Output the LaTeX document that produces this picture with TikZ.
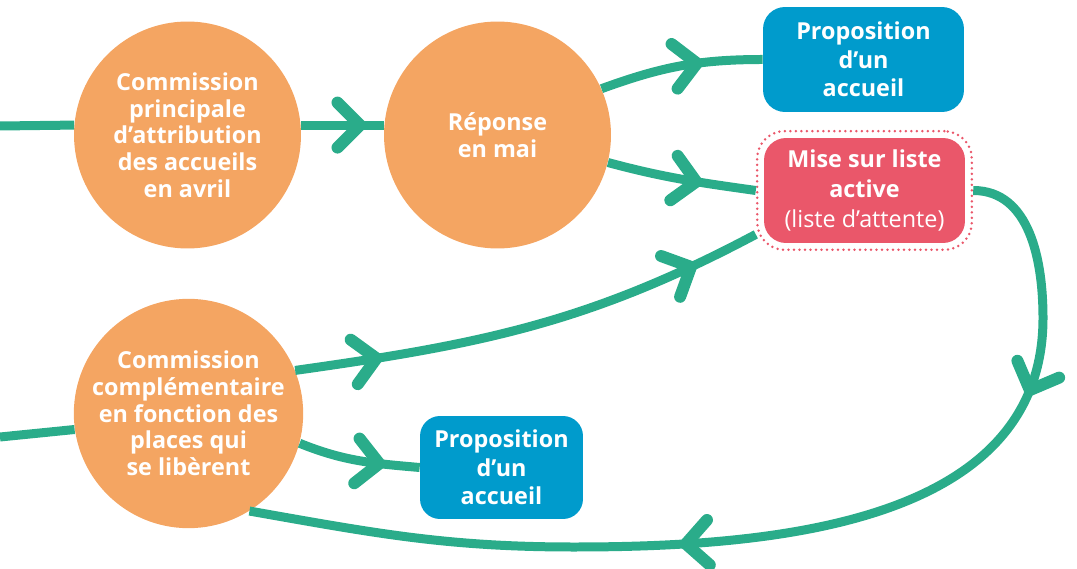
\documentclass[tikz,border=0pt]{standalone}
\usepackage{fontspec}
\setmainfont{Open Sans}
\usetikzlibrary{positioning, fit, decorations.markings}
\definecolor{commorange}{RGB}{244, 165, 98}
\definecolor{flowgreen}{RGB}{42, 172, 138}
\definecolor{offerblue}{RGB}{0, 155, 204}
\definecolor{listred}{RGB}{234, 87, 106}
\newcommand{\flowchev}{\draw[flowgreen, line width=0.24cm, line cap=round, line join=round] (-0.45cm, 0.45cm) -- (0,0) -- (-0.45cm, -0.45cm);}

\begin{document}
\begin{tikzpicture}[x=0.02cm, y=0.02cm,
  comm/.style={circle, fill=commorange, minimum size=4.54cm, inner sep=0pt, align=center, text=white, font=\fontsize{13.3}{15.2}\selectfont\bfseries},
  offer/.style={rounded corners=0.44cm, fill=offerblue, align=center, text=white, font=\fontsize{13.3}{16.2}\selectfont\bfseries},
  flowline/.style={draw=flowgreen, line width=0.18cm},
  chev/.style={postaction={decorate, decoration={markings, mark=at position #1 with {\flowchev}}}}]
  \useasboundingbox (0,0) rectangle (1077,568);

  % Commissions
  \node[comm] (cprinc) at (187.5, 433) {Commission\\principale\\d’attribution\\des accueils\\en avril};
  \node[comm] (reponse) at (497.5, 433) {Réponse\\en mai};
  \node[comm] (ccompl) at (188.5, 154.5) {Commission\\complémentaire\\en fonction des\\places qui\\se libèrent};

  % Outcomes
  \node[offer, minimum width=4.02cm, minimum height=2.1cm] (prop1) at (863.5, 508.5) {Proposition\\d’un\\accueil};
  \node[offer, fill=listred, minimum width=4.02cm, minimum height=2.1cm, font=\fontsize{13.3}{17.2}\selectfont\bfseries] (liste) at (864.5, 377.5) {Mise sur liste\\active\\{\mdseries (liste d’attente)}};
  \node[fit=(liste), inner sep=0.13cm, rounded corners=0.55cm, draw=listred, line width=0.055cm, dash pattern=on 0pt off 0.11cm, line cap=round] (listedot) {};
  \node[offer, minimum width=3.26cm, minimum height=2.06cm, rounded corners=0.4cm] (prop2) at (501.5, 100.5) {Proposition\\d’un\\accueil};

  % Flow lines
  \coordinate (in1) at (0, 442);
  \coordinate (in3) at (0, 131);
  \draw[flowline] (in1) -- (cprinc.175);
  \draw[flowline, chev=0.71] (cprinc.5) -- (reponse.175);
  \draw[flowline, chev=0.6] (reponse.24) to[out=20, in=180] (prop1.west);
  \draw[flowline, chev=0.6] (reponse.-14) to[out=-15, in=172] (listedot.west);
  \draw[flowline] (in3) -- (ccompl.188);
  \draw[flowline, chev=0.17, chev=0.85] (ccompl.22) to[out=8, in=208] (listedot.202);
  \draw[flowline, chev=0.67] (ccompl.-15) to[out=-22, in=175] (prop2.west);

  % Loop back from the list
  \coordinate (turn) at (1043, 250);
  \coordinate (bottom) at (574, 21);
  \draw[flowline, chev=0.22, chev=0.59] (listedot.east) to[out=0, in=90] (turn) to[out=-90, in=0] (bottom) to[out=180, in=-10] (ccompl.-58);
\end{tikzpicture}
\end{document}
